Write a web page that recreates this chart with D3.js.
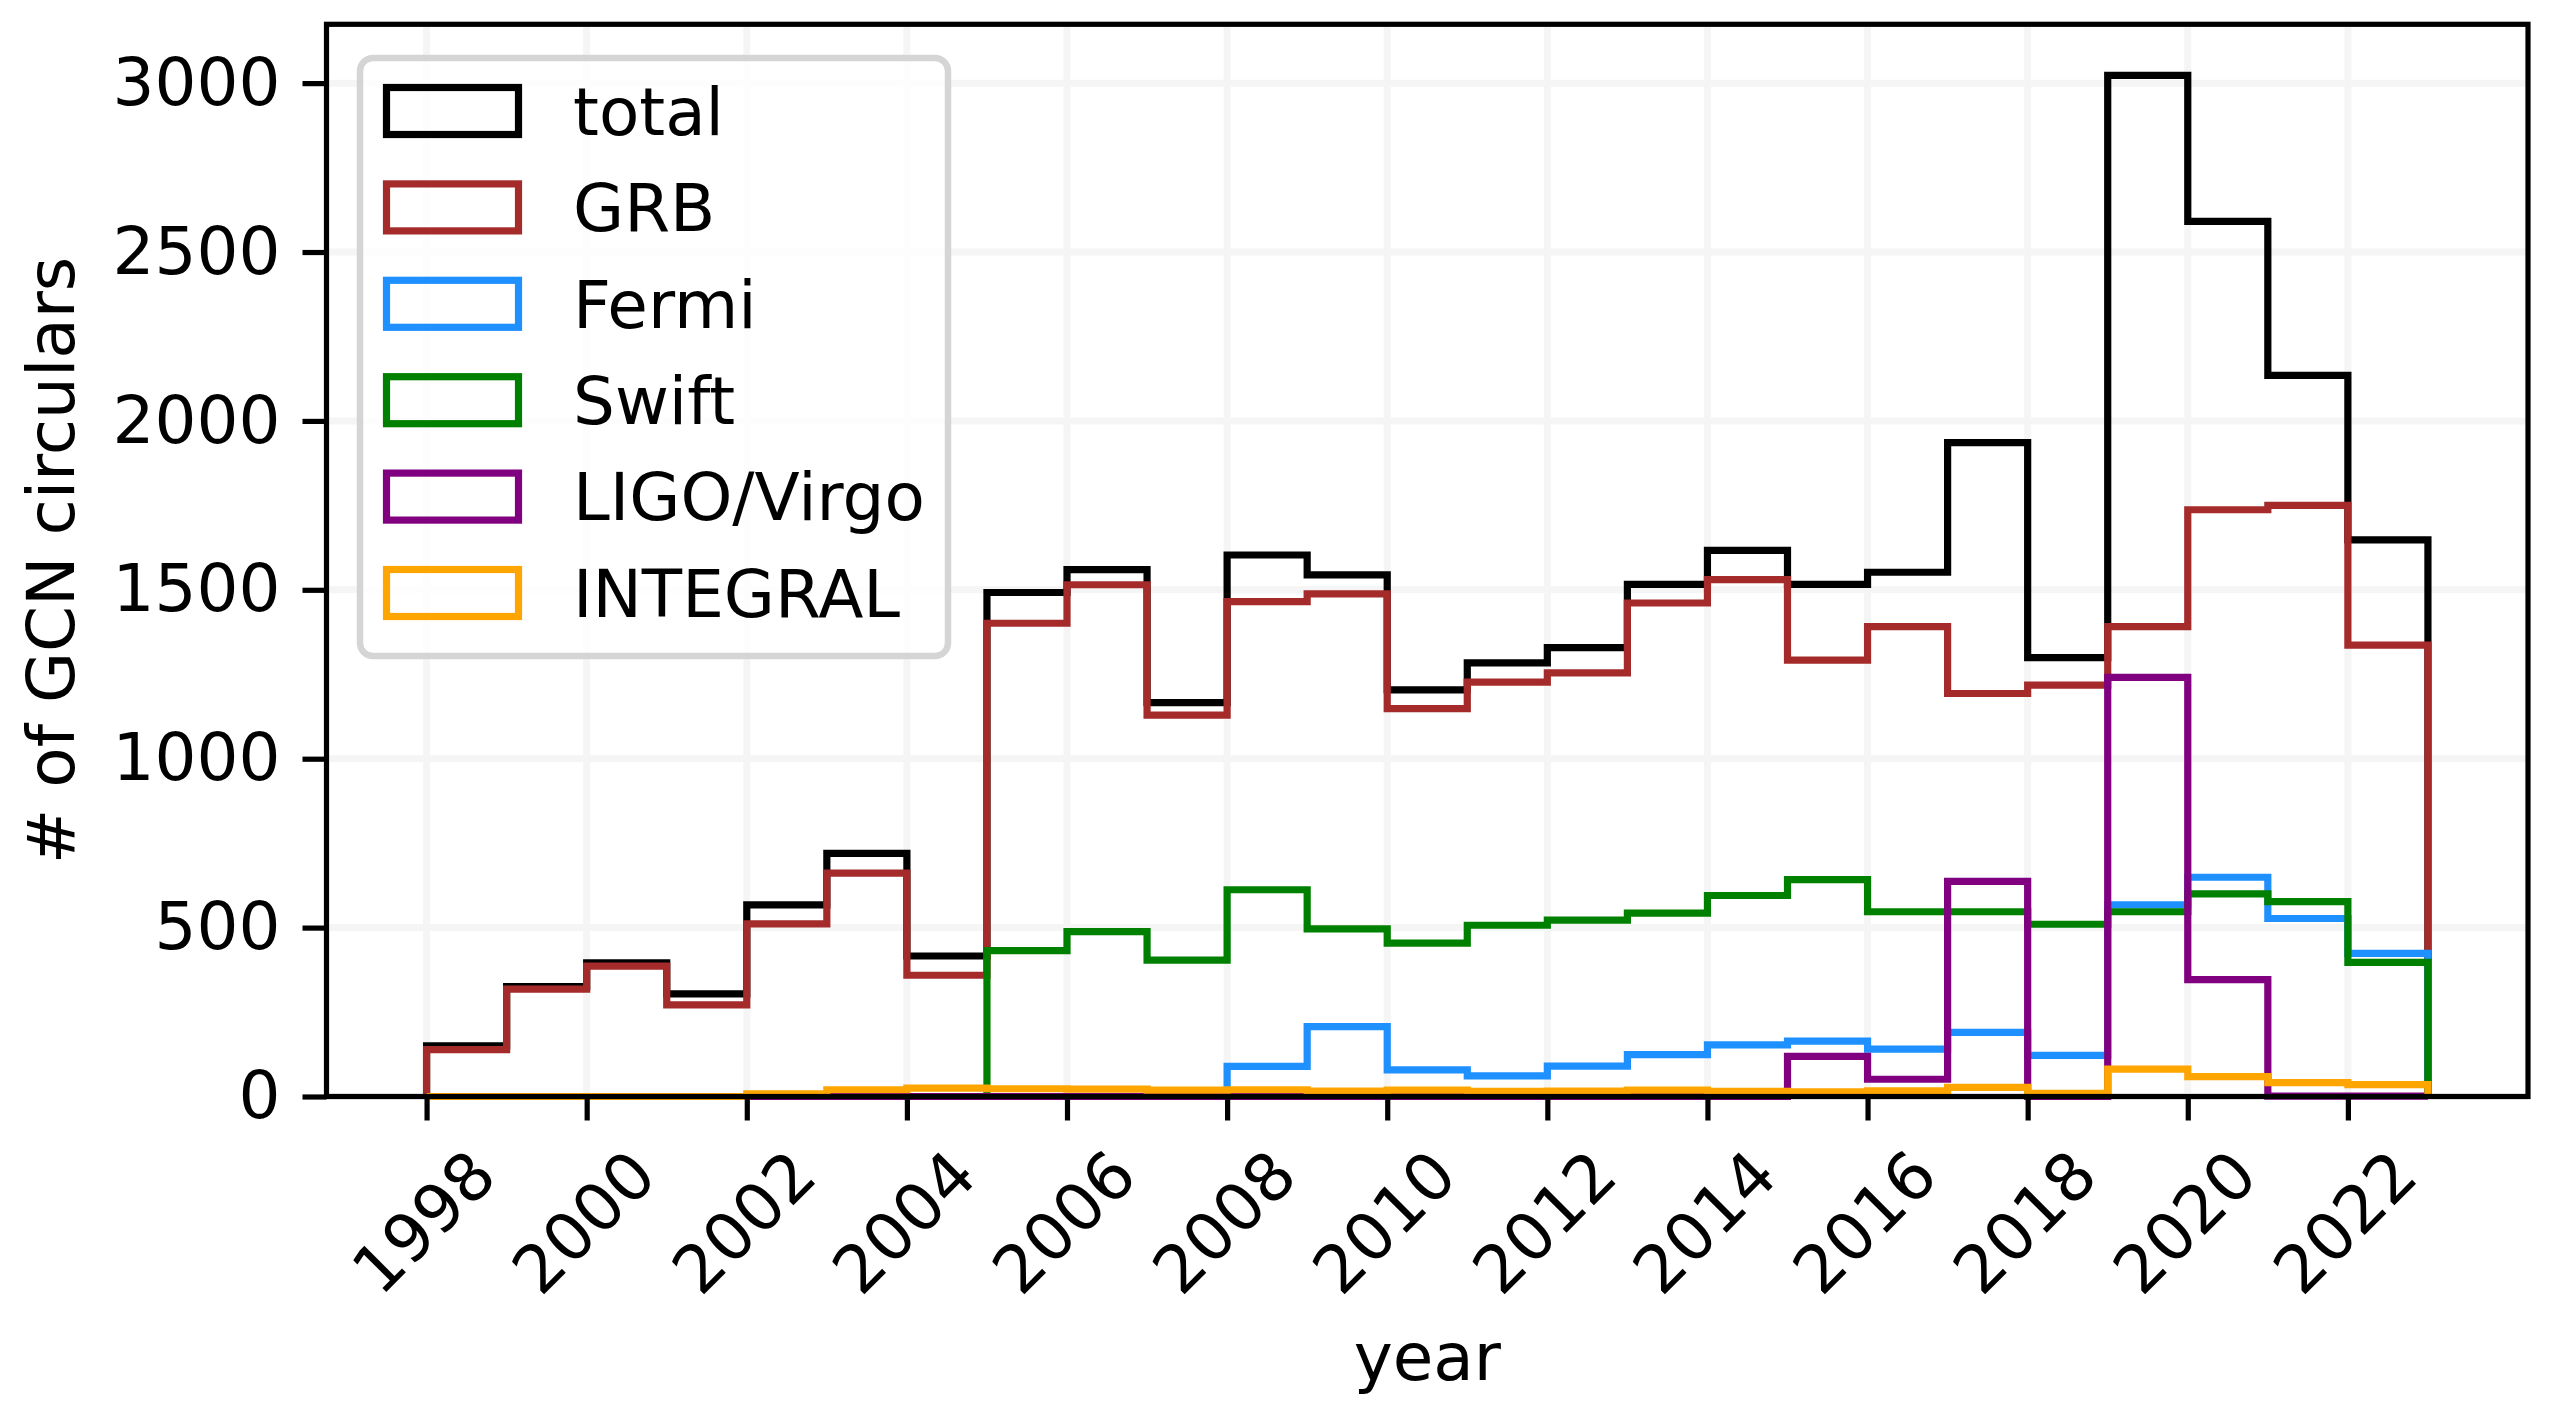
<!DOCTYPE html>
<html>
<head>
<meta charset="utf-8">
<script src="https://cdn.jsdelivr.net/npm/d3@7"></script>
<style>
  body { margin: 0; background: #fff; }
  text { font-family: 'DejaVu Sans', sans-serif; }
</style>
</head>
<body>
<div class="canvas"></div>
<script>
// bins: one per year, left edges
const years = [1998, 1999, 2000, 2001, 2002, 2003, 2004, 2005, 2006, 2007, 2008, 2009, 2010,
  2011, 2012, 2013, 2014, 2015, 2016, 2017, 2018, 2019, 2020, 2021, 2022];

const total = [150, 325, 396, 304, 567, 720, 416, 1492, 1560, 1166, 1603, 1544, 1204,
  1284, 1329, 1516, 1617, 1516, 1552, 1936, 1299, 3023, 2591, 2135, 1648];
const grb = [139, 318, 386, 271, 511, 661, 359, 1401, 1515, 1129, 1465, 1488, 1148,
  1227, 1254, 1461, 1530, 1292, 1391, 1193, 1218, 1391, 1737, 1750, 1336];
const fermi = [0, 0, 0, 0, 0, 0, 0, 0, 0, 0, 89, 207, 79,
  61, 90, 124, 153, 164, 140, 190, 122, 567, 649, 527, 424];
const swift = [0, 0, 0, 0, 0, 0, 0, 432, 488, 404, 612, 496, 454,
  507, 522, 543, 595, 642, 547, 547, 510, 547, 600, 577, 397];
const ligo = [0, 0, 0, 0, 0, 0, 0, 0, 0, 0, 0, 0, 0,
  0, 0, 0, 0, 119, 51, 637, 0, 1241, 346, 1, 1];
const integral = [0, 0, 0, 0, 8, 20, 25, 23, 22, 19, 20, 16, 19,
  15, 16, 19, 15, 14, 17, 27, 9, 81, 59, 41, 35];

const seriesNames = ['total', 'GRB', 'Fermi', 'Swift', 'LIGO/Virgo', 'INTEGRAL'];
const seriesColors = ['#000000', '#a52a2a', '#1e90ff', '#008000', '#800080', '#ffa500'];
const seriesValues = [total, grb, fermi, swift, ligo, integral];

const xTicks = [1998, 2000, 2002, 2004, 2006, 2008, 2010, 2012, 2014, 2016, 2018, 2020, 2022];
const yTicks = [0, 500, 1000, 1500, 2000, 2500, 3000];

const width = 2555;
const height = 1423;
const margin = { top: 24.3, right: 27, bottom: 326.5, left: 326.5 };
const graphWidth = width - margin.left - margin.right;
const graphHeight = height - margin.top - margin.bottom;
const fontSize = 66;
const lineWidth = 7.2;

const svg = d3
  .select('.canvas')
  .append('svg')
  .attr('width', width)
  .attr('height', height);

const graph = svg
  .append('g')
  .attr('transform', `translate(${margin.left}, ${margin.top})`);

//scales (matplotlib-style 5% margin on x, bottom fixed at 0)
const first = years[0];
const last = years[years.length - 1] + 1;
const span = last - first;
const x = d3.scaleLinear()
  .domain([first - span * 0.05, last + span * 0.05])
  .range([0, graphWidth]);
const y = d3.scaleLinear()
  .domain([0, d3.max(total) * 1.05])
  .range([graphHeight, 0]);

//grid
const grid = graph.append('g').attr('class', 'grid');
grid.selectAll('.gx')
  .data(xTicks)
  .enter()
  .append('line')
  .attr('x1', (d) => x(d))
  .attr('x2', (d) => x(d))
  .attr('y1', 0)
  .attr('y2', graphHeight)
  .attr('stroke', '#f5f5f5')
  .attr('stroke-width', 7);
grid.selectAll('.gy')
  .data(yTicks)
  .enter()
  .append('line')
  .attr('x1', 0)
  .attr('x2', graphWidth)
  .attr('y1', (d) => y(d))
  .attr('y2', (d) => y(d))
  .attr('stroke', '#f5f5f5')
  .attr('stroke-width', 7);

//step histogram outlines
const line = d3.line()
  .x((d) => x(d[0]))
  .y((d) => y(d[1]));

const stepPoints = (values) => {
  const pts = [[years[0], 0]];
  values.forEach((v, i) => {
    pts.push([years[i], v]);
    pts.push([years[i] + 1, v]);
  });
  pts.push([years[years.length - 1] + 1, 0]);
  return pts;
};

graph.selectAll('.hist')
  .data(seriesValues)
  .enter()
  .append('path')
  .attr('class', 'hist')
  .attr('d', (d) => line(stepPoints(d)))
  .attr('fill', 'none')
  .attr('stroke', (d, i) => seriesColors[i])
  .attr('stroke-width', lineWidth)
  .attr('stroke-linejoin', 'miter');

//axes
const xAxis = d3.axisBottom(x).tickValues(xTicks).tickSize(24).tickFormat((d) => d);
const yAxis = d3.axisLeft(y).tickValues(yTicks).tickSize(24).tickPadding(22).tickFormat((d) => d);

const xAxisGroup = graph.append('g')
  .attr('transform', `translate(0, ${graphHeight})`)
  .call(xAxis);
const yAxisGroup = graph.append('g').call(yAxis);

[xAxisGroup, yAxisGroup].forEach((g) => {
  g.select('.domain').remove();
  g.selectAll('line').attr('stroke', '#000').attr('stroke-width', 5.2);
  g.selectAll('text')
    .attr('fill', '#000')
    .style('font-size', fontSize + 'px')
    .style('font-family', "'DejaVu Sans', sans-serif");
});

//rotate x labels
xAxisGroup.selectAll('text')
  .attr('y', 0)
  .attr('dy', null)
  .attr('text-anchor', 'middle')
  .attr('dominant-baseline', 'central')
  .attr('transform', 'translate(-3, 126) rotate(-45)');

//spines
graph.append('rect')
  .attr('x', 0)
  .attr('y', 0)
  .attr('width', graphWidth)
  .attr('height', graphHeight)
  .attr('fill', 'none')
  .attr('stroke', '#000')
  .attr('stroke-width', 5.2);

//axis labels
svg.append('text')
  .attr('x', margin.left + graphWidth / 2)
  .attr('y', 1380)
  .attr('text-anchor', 'middle')
  .style('font-size', fontSize + 'px')
  .text('year');

svg.append('text')
  .attr('transform', `translate(51, ${margin.top + graphHeight / 2}) rotate(-90)`)
  .attr('text-anchor', 'middle')
  .attr('dominant-baseline', 'central')
  .style('font-size', fontSize + 'px')
  .text('# of GCN circulars');

//legend
const legend = graph.append('g').attr('transform', `translate(${360 - margin.left}, ${58 - margin.top})`);
legend.append('rect')
  .attr('width', 588)
  .attr('height', 598)
  .attr('rx', 13)
  .attr('fill', '#fff')
  .attr('fill-opacity', 0.8)
  .attr('stroke', '#d5d5d5')
  .attr('stroke-width', 6.5);

const items = legend.selectAll('.item')
  .data(seriesNames)
  .enter()
  .append('g')
  .attr('transform', (d, i) => `translate(0, ${53 + i * 96.4})`);

items.append('rect')
  .attr('x', 26.5)
  .attr('y', -23.5)
  .attr('width', 132)
  .attr('height', 47)
  .attr('fill', 'none')
  .attr('stroke', (d, i) => seriesColors[i])
  .attr('stroke-width', lineWidth);

items.append('text')
  .attr('x', 213)
  .attr('y', 0)
  .attr('dy', '0.36em')
  .style('font-size', fontSize + 'px')
  .text((d) => d);
</script>
</body>
</html>
